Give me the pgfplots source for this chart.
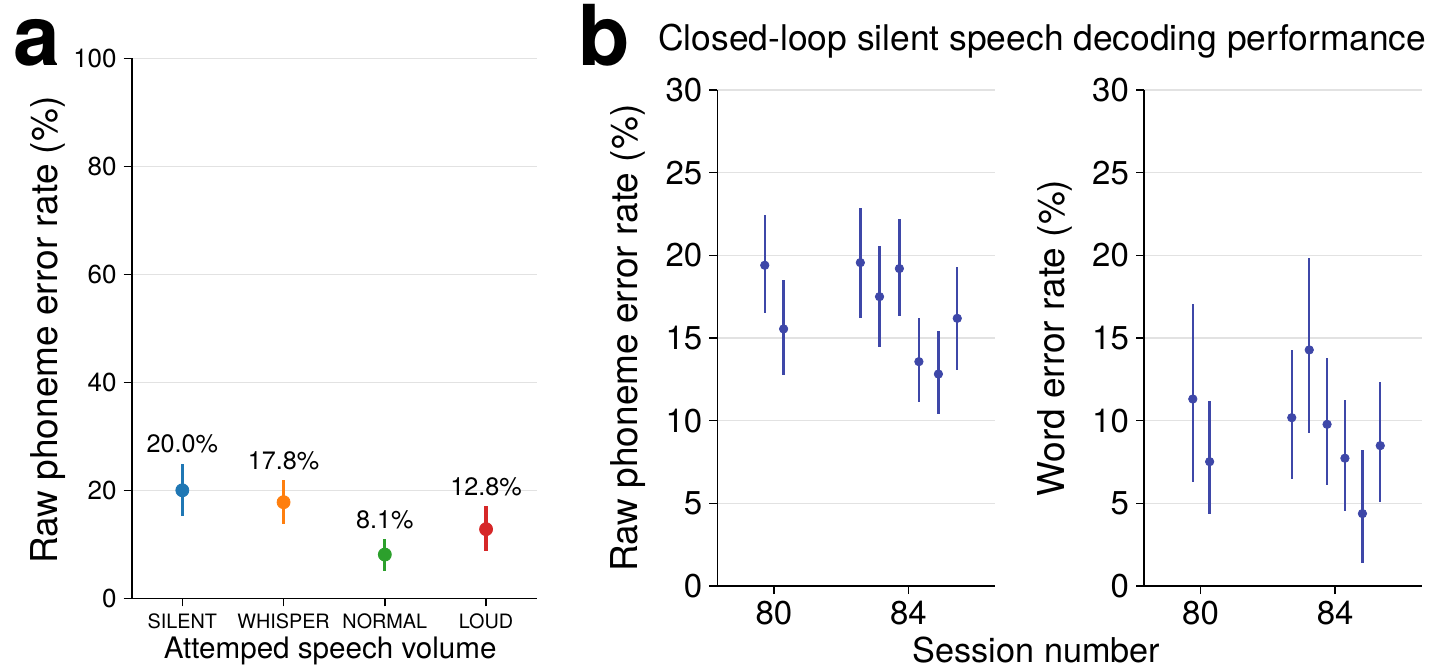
\documentclass[border=0pt]{standalone}
\usepackage{fontspec}
\setmainfont{TeX Gyre Heros}
\usepackage{pgfplots}
\pgfplotsset{compat=1.18}
\definecolor{c1}{HTML}{1F77B4}
\definecolor{c2}{HTML}{FF7F0E}
\definecolor{c3}{HTML}{2CA02C}
\definecolor{c4}{HTML}{D62728}
\definecolor{bb}{RGB}{62,71,168}
\definecolor{gridc}{RGB}{226,226,226}

\pgfplotstableread{
x y ep em
79.73 19.40 3.06 2.90
80.29 15.55 2.98 2.79
82.57 19.56 3.29 3.37
83.14 17.50 3.05 3.04
83.73 19.20 3.02 2.87
84.31 13.57 2.62 2.46
84.89 12.82 2.61 2.44
85.45 16.19 3.13 3.10
}\perdata
\pgfplotstableread{
x y ep em
79.77 11.31 5.73 5.00
80.27 7.52 3.69 3.16
82.71 10.18 4.10 3.71
83.23 14.28 5.58 5.01
83.76 9.78 4.01 3.65
84.29 7.73 3.52 3.21
84.81 4.38 3.86 3.01
85.34 8.49 3.83 3.41
}\werdata

\pgfplotsset{
 mystyle/.style={
  scale only axis,
  axis lines=left,
  axis line style={-, line width=0.8pt, black},
  tick align=outside,
  major tick length=4pt,
  every tick/.style={black, line width=0.8pt},
  ymajorgrids,
  grid style={gridc, line width=0.75pt},
  /pgf/number format/assume math mode=true,
  clip=false,
 },
 bstyle/.style={
  mystyle,
  width=139pt, height=248pt,
  xmin=78.32, xmax=86.58, ymin=0, ymax=30,
  ytick={0,5,...,30}, xtick={80,84},
  tick label style={font=\fontsize{16.5}{19}\selectfont},
  ylabel style={font=\fontsize{18.5}{22}\selectfont, at={(axis description cs:-0.32,0.5)}, anchor=center},
 },
 bplot/.style={bb, only marks, mark=*, mark size=2.1pt,
  error bars/.cd, y dir=both, y explicit, error mark=none,
  error bar style={bb, line width=1.2pt}},
}

\begin{document}
\begin{tikzpicture}
\useasboundingbox (0,0) rectangle (714.5pt,-334.5pt);

% panel a
\begin{axis}[mystyle, at={(65.85pt,-299.15pt)}, anchor=south west,
 width=202.5pt, height=270pt,
 xmin=-0.5, xmax=3.5, ymin=0, ymax=100,
 ytick={0,20,...,100}, xtick={0,1,2,3},
 xticklabels={SILENT,WHISPER,NORMAL,LOUD},
 xticklabel style={font=\fontsize{9.9}{12}\selectfont},
 yticklabel style={font=\fontsize{13}{15}\selectfont},
 ylabel={Raw phoneme error rate (\%)},
 ylabel style={font=\fontsize{18.5}{22}\selectfont, at={(axis description cs:-0.207,0.497)}, anchor=center},
 xlabel={Attemped speech volume},
 xlabel style={font=\fontsize{14.8}{17}\selectfont, at={(axis description cs:0.49,-0.112)}, anchor=base},
]
\addplot[c1, only marks, mark=*, mark size=3.25pt, error bars/.cd, y dir=both, y explicit, error mark=none, error bar style={c1, line width=1.6pt}]
 coordinates {(0,20.0) += (0,4.9) -= (0,4.8)};
\addplot[c2, only marks, mark=*, mark size=3.25pt, error bars/.cd, y dir=both, y explicit, error mark=none, error bar style={c2, line width=1.6pt}]
 coordinates {(1,17.8) += (0,4.1) -= (0,4.0)};
\addplot[c3, only marks, mark=*, mark size=3.25pt, error bars/.cd, y dir=both, y explicit, error mark=none, error bar style={c3, line width=1.6pt}]
 coordinates {(2,8.1) += (0,2.9) -= (0,3.0)};
\addplot[c4, only marks, mark=*, mark size=3.25pt, error bars/.cd, y dir=both, y explicit, error mark=none, error bar style={c4, line width=1.6pt}]
 coordinates {(3,12.8) += (0,4.3) -= (0,4.1)};
\addplot[only marks, mark=none, point meta=explicit symbolic, nodes near coords,
 every node near coord/.append style={anchor=south, inner sep=0pt, yshift=5pt, black, font=\fontsize{12.6}{15}\selectfont}]
 coordinates {(0,24.9) [20.0\%] (1,21.9) [17.8\%] (2,11.0) [8.1\%] (3,17.1) [12.8\%]};
\end{axis}

% panel b left
\begin{axis}[bstyle, at={(358.65pt,-293pt)}, anchor=south west,
 ylabel={Raw phoneme error rate (\%)}]
\addplot[bplot] table[x=x, y=y, y error plus=ep, y error minus=em] {\perdata};
\end{axis}

% panel b right
\begin{axis}[bstyle, at={(572pt,-293pt)}, anchor=south west,
 ylabel={Word error rate (\%)}]
\addplot[bplot] table[x=x, y=y, y error plus=ep, y error minus=em] {\werdata};
\end{axis}

\node[anchor=base west, font=\fontsize{42}{46}\selectfont\bfseries, inner sep=0pt] at (6.5pt,-32.5pt) {a};
\node[anchor=base west, font=\fontsize{42}{46}\selectfont\bfseries, inner sep=0pt] at (289pt,-32.5pt) {b};
\node[anchor=base west, font=\fontsize{17.7}{20}\selectfont, inner sep=0pt] at (329pt,-25pt) {Closed-loop silent speech decoding performance};
\node[anchor=base, font=\fontsize{17.1}{20}\selectfont, inner sep=0pt] at (518.25pt,-331pt) {Session number};
\end{tikzpicture}
\end{document}
